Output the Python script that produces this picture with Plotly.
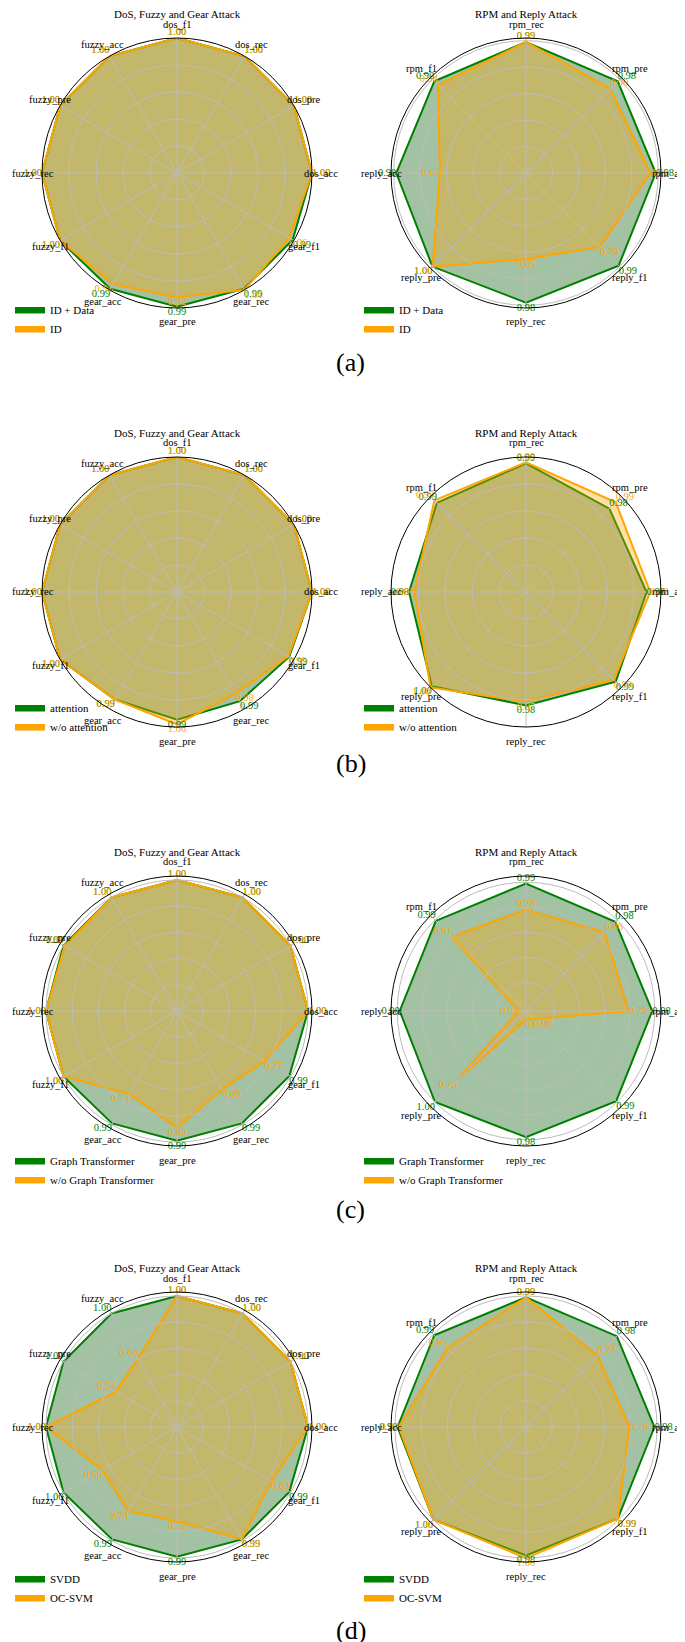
import math
import plotly.graph_objects as go

# axis categories (clockwise)
left_cats = ["dos_f1", "dos_rec", "dos_pre", "dos_acc", "gear_f1", "gear_rec",
             "gear_pre", "gear_acc", "fuzzy_f1", "fuzzy_rec", "fuzzy_pre", "fuzzy_acc"]
right_cats = ["rpm_f1", "rpm_rec", "rpm_pre", "rpm_acc",
              "reply_f1", "reply_rec", "reply_pre", "reply_acc"]
left_title = "DoS, Fuzzy and Gear Attack"
right_title = "RPM and Reply Attack"

# (a) ID + Data vs ID
a_names = ["ID + Data", "ID"]
a_left_green = [1.00, 1.00, 1.00, 1.00, 0.99, 0.99, 0.99, 0.99, 1.00, 1.00, 1.00, 1.00]
a_left_orange = [1.00, 1.00, 1.00, 1.00, 0.96, 1.00, 0.92, 0.95, 1.00, 1.00, 1.00, 1.00]
a_right_green = [0.98, 0.99, 0.98, 0.98, 0.99, 0.98, 1.00, 0.98]
a_right_orange = [0.94, 0.99, 0.90, 0.94, 0.79, 0.65, 1.00, 0.65]

# (b) attention vs w/o attention
b_names = ["attention", "w/o attention"]
b_left_green = [1.00, 1.00, 1.00, 1.00, 0.994, 0.990, 0.992, 0.988, 1.00, 1.00, 1.00, 1.00]
b_left_orange = [1.00, 1.00, 1.00, 1.00, 0.993, 0.980, 0.997, 0.988, 1.00, 1.00, 1.00, 1.00]
b_right_green = [0.990, 0.993, 0.981, 0.984, 0.991, 0.976, 0.998, 0.980]
b_right_orange = [0.994, 0.994, 0.991, 0.988, 0.988, 0.972, 1.000, 0.974]

# (c) Graph Transformer vs w/o Graph Transformer
c_names = ["Graph Transformer", "w/o Graph Transformer"]
c_left_green = [1.00, 1.00, 1.00, 1.00, 0.99, 0.99, 0.99, 0.99, 1.00, 1.00, 1.00, 1.00]
c_left_orange = [1.00, 1.00, 1.00, 1.00, 0.77, 0.69, 0.89, 0.73, 1.00, 1.00, 0.99, 1.00]
c_right_green = [0.99, 0.99, 0.98, 0.98, 0.99, 0.98, 1.00, 0.98]
c_right_orange = [0.81, 0.78, 0.86, 0.79, 0.06, 0.04, 0.75, 0.03]

# (d) SVDD vs OC-SVM
d_names = ["SVDD", "OC-SVM"]
d_left_green = [1.00, 1.00, 1.00, 1.00, 0.99, 0.99, 0.99, 0.99, 1.00, 1.00, 1.00, 1.00]
d_left_orange = [1.00, 1.00, 1.00, 1.00, 0.83, 0.99, 0.72, 0.74, 0.66, 1.00, 0.54, 0.60]
d_right_green = [0.99, 0.99, 0.98, 0.98, 0.99, 0.98, 1.00, 0.98]
d_right_orange = [0.85, 0.99, 0.77, 0.79, 0.99, 1.00, 1.00, 0.97]

panel_labels = ["(a)", "(b)", "(c)", "(d)"]

rows = [
    (a_names, a_left_green, a_left_orange, a_right_green, a_right_orange),
    (b_names, b_left_green, b_left_orange, b_right_green, b_right_orange),
    (c_names, c_left_green, c_left_orange, c_right_green, c_right_orange),
    (d_names, d_left_green, d_left_orange, d_right_green, d_right_orange),
]

# layout settings (pixels / axis ranges)
W, H = 685, 1642
R = 135
col_cx = [169, 518]
row_cy = [165, 584, 1003, 1419]
legend_top = [287, 685, 1138, 1556]
legend_x = [2, 351]
label_y = [354, 755, 1201, 1622]
radial_ranges = [([0, 1.0], [0, 1.02]), ([0.85, 1.0], [0.85, 1.0]),
                 ([0, 1.03], [-0.03, 1.05]), ([0, 1.03], [0, 1.03])]

FONT = "Liberation Serif"
GRID = "#bcbcbc"
GREEN, ORANGE = "green", "orange"
GREEN_FILL = "rgba(25,100,25,0.40)"
ORANGE_FILL = "rgba(255,165,0,0.34)"


def text_positions(n, rotation):
    out = []
    for i in range(n):
        ang = math.radians(rotation - i * 360 / n)
        c, s = math.cos(ang), math.sin(ang)
        v = "top" if s > 0.45 else "bottom" if s < -0.45 else "middle"
        h = "right" if c > 0.45 else "left" if c < -0.45 else "center"
        out.append(v + " " + h)
    return out


fig = go.Figure()
layout = {}
annotations = []

for i, (names, lg, lo, rg, ro) in enumerate(rows):
    for j, (cats, g, o, rot, title) in enumerate([
        (left_cats, lg, lo, 90, left_title),
        (right_cats, rg, ro, 135, right_title),
    ]):
        k = i * 2 + j + 1
        pname = "polar" if k == 1 else f"polar{k}"
        gname = f"polar{k + 8}"  # transparent overlay carrying grid, frame and labels
        lname = "legend" if k == 1 else f"legend{k}"
        theta = cats + cats[:1]
        tpos = text_positions(len(cats), rot)
        rng = radial_ranges[i][j]
        cx, cy = col_cx[j], row_cy[i]

        for vals, col, fc in [(g, GREEN, GREEN_FILL), (o, ORANGE, ORANGE_FILL)]:
            fig.add_trace(go.Scatterpolar(
                r=vals + vals[:1], theta=theta, mode="lines", fill="toself",
                fillcolor=fc, line=dict(color=col, width=2),
                subplot=pname, showlegend=False, cliponaxis=False, hoverinfo="skip"))
        for vals, col in [(g, GREEN), (o, ORANGE)]:
            fig.add_trace(go.Scatterpolar(
                r=vals, theta=cats, mode="text",
                text=[f"{v:.2f}" for v in vals], textposition=tpos,
                textfont=dict(color=col, size=10.5, family=FONT),
                subplot=gname, showlegend=False, cliponaxis=False, hoverinfo="skip"))
        # legend entries (solid patches)
        for name, col in zip(names, [GREEN, ORANGE]):
            fig.add_trace(go.Scatterpolar(
                r=[None], theta=[None], mode="lines", fill="toself",
                fillcolor=col, line=dict(color=col, width=1), name=name,
                subplot=gname, legend=lname, showlegend=True))

        # category labels sit just outside the frame, overlapping it a little
        n = len(cats)
        for t, cat in enumerate(cats):
            ang = math.radians(rot - t * 360 / n)
            off = R + 9 + 5 * abs(math.sin(ang))
            annotations.append(dict(
                text=cat, x=(cx + off * math.cos(ang)) / W, y=1 - (cy - off * math.sin(ang)) / H,
                xref="paper", yref="paper", xanchor="center", yanchor="middle",
                showarrow=False, font=dict(family=FONT, size=10.5, color="black")))

        if rng[0] >= 0.5:
            tv = [rng[0] + (rng[1] - rng[0]) * f for f in (0.2, 0.4, 0.6, 0.8, 1.0)]
        else:
            tv = [0.2, 0.4, 0.6, 0.8, 1.0]
        dom = dict(x=[(cx - R) / W, (cx + R) / W], y=[1 - (cy + R) / H, 1 - (cy - R) / H])
        for nm, bg, grid in [(pname, "white", False), (gname, "rgba(0,0,0,0)", True)]:
            layout[nm] = dict(
                domain=dom, bgcolor=bg,
                angularaxis=dict(rotation=rot, direction="clockwise", type="category",
                                 categoryarray=cats, showline=grid, linecolor="black",
                                 linewidth=1, showgrid=grid, gridcolor=GRID, gridwidth=0.8,
                                 ticks="", showticklabels=False),
                radialaxis=dict(range=rng, tickvals=tv, showticklabels=False, ticks="",
                                showline=False, showgrid=grid, gridcolor=GRID, gridwidth=0.8),
            )
        layout[lname] = dict(x=legend_x[j] / W, y=1 - legend_top[i] / H,
                             xanchor="left", yanchor="top", bgcolor="rgba(0,0,0,0)",
                             font=dict(family=FONT, size=11, color="black"),
                             itemwidth=30, tracegroupgap=0)
        annotations.append(dict(text=title, x=cx / W, y=1 - (cy - 159) / H,
                                xref="paper", yref="paper", xanchor="center", yanchor="middle",
                                showarrow=False, font=dict(family=FONT, size=11, color="black")))
    annotations.append(dict(text=panel_labels[i], x=0.5, y=1 - label_y[i] / H,
                            xref="paper", yref="paper", xanchor="center", yanchor="middle",
                            showarrow=False, font=dict(family=FONT, size=26, color="black")))

fig.update_layout(
    width=W, height=H, margin=dict(l=0, r=0, t=0, b=0),
    paper_bgcolor="white", plot_bgcolor="white", template="none",
    font=dict(family=FONT, size=11, color="black"),
    annotations=annotations, **layout,
)

fig.write_html("out.html")
